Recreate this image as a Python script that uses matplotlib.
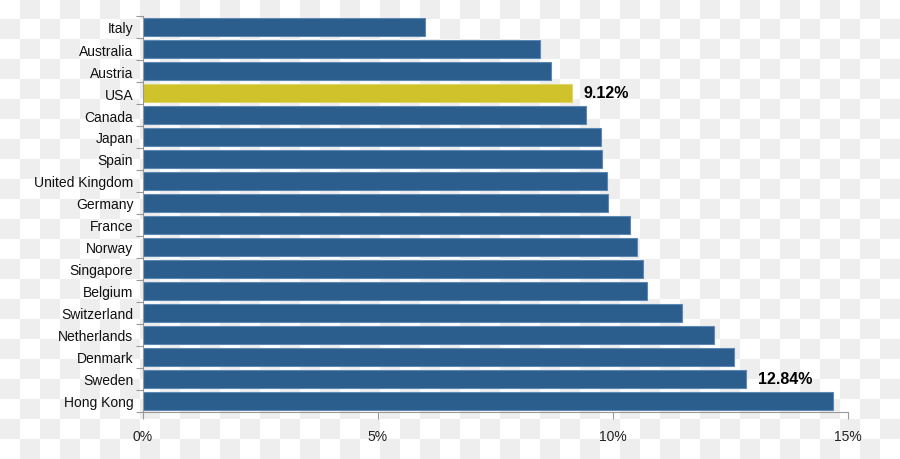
import matplotlib.pyplot as plt
import numpy as np

plt.rcParams['font.family'] = ['Liberation Sans', 'DejaVu Sans']

#%% DATA
countries = ["Italy", "Australia", "Austria", "USA", "Canada", "Japan", "Spain",
             "United Kingdom", "Germany", "France", "Norway", "Singapore", "Belgium",
             "Switzerland", "Netherlands", "Denmark", "Sweden", "Hong Kong"]
shares = [6.00, 8.45, 8.68, 9.12, 9.43, 9.74, 9.77, 9.87, 9.89, 10.36, 10.51,
          10.64, 10.72, 11.47, 12.15, 12.57, 12.84, 14.68]
highlight = "USA"
labelled = {"USA": "9.12%", "Sweden": "12.84%"}
xticks = [0, 5, 10, 15]
xticklabels = ["0%", "5%", "10%", "15%"]

#%% FIGURE
fig = plt.figure(figsize=(9, 4.6), dpi=100)

# checkerboard backdrop (transparent png look)
bg = fig.add_axes([0, 0, 1, 1], zorder=-1)
rows, cols = 23, 45
board = np.indices((rows, cols)).sum(axis=0) % 2
bg.imshow(board, cmap=plt.matplotlib.colors.ListedColormap(["#ffffff", "#eeeeee"]),
          extent=(0, 900, 460, 0), interpolation="nearest", aspect="auto")
bg.set_xlim(0, 900)
bg.set_ylim(460, 0)
bg.axis("off")

ax = fig.add_axes([143 / 900, 1 - 413 / 460, 705 / 900, 396 / 460])
ax.set_facecolor("none")

ypos = np.arange(len(countries))
colors = ["#cfc22a" if c == highlight else "#2b5e8c" for c in countries]
edges = ["#e0d66a" if c == highlight else "#5d88b3" for c in countries]
ax.barh(ypos, shares, height=0.82, color=colors, edgecolor=edges, linewidth=0.8)

for i, c in enumerate(countries):
    if c in labelled:
        ax.text(shares[i] + 0.25, ypos[i], labelled[c], va="center", ha="left",
                fontsize=11.5, fontweight="bold", color="black")

ax.set_xlim(0, 15)
ax.set_ylim(len(countries) - 0.5, -0.5)
ax.set_xticks(xticks)
ax.set_xticklabels(xticklabels, fontsize=10, color="#222222")
ax.set_yticks(ypos)
ax.set_yticklabels(countries, fontsize=10, color="#111111")
ax.set_yticks(np.arange(len(countries) + 1) - 0.5, minor=True)

ax.tick_params(axis="y", which="major", length=0, pad=7)
ax.tick_params(axis="y", which="minor", length=5, color="#999999", width=0.8)
ax.tick_params(axis="x", length=5, color="#999999", width=0.8, pad=7)

for side in ["top", "right"]:
    ax.spines[side].set_visible(False)
for side in ["left", "bottom"]:
    ax.spines[side].set_color("#999999")
    ax.spines[side].set_linewidth(0.8)

fig.savefig("out.png", dpi=100)
